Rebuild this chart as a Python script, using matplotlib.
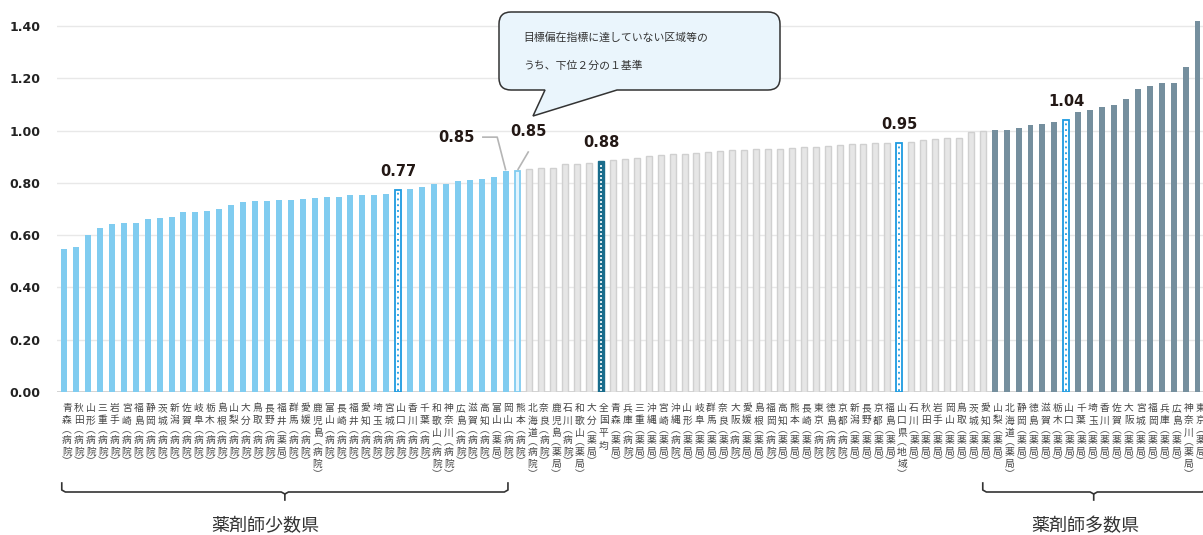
#!/usr/bin/env python3
"""Bar chart of the pharmacist distribution index by prefecture/sector,
sorted ascending, with the few/many pharmacist groups bracketed."""

import matplotlib.pyplot as plt
import matplotlib.transforms as mtransforms
from matplotlib.path import Path
from matplotlib.patches import PathPatch

plt.rcParams["font.family"] = ["Noto Sans CJK JP", "DejaVu Sans"]

W_PX, H_PX = 1203, 535

names = [
    "青森(病院)", "秋田(病院)", "山形(病院)", "三重(病院)", "岩手(病院)",
    "宮崎(病院)", "福島(病院)", "静岡(病院)", "茨城(病院)", "新潟(病院)",
    "佐賀(病院)", "岐阜(病院)", "栃木(病院)", "島根(病院)", "山梨(病院)",
    "大分(病院)", "鳥取(病院)", "長野(病院)", "福井(薬局)", "群馬(病院)",
    "愛媛(病院)", "鹿児島(病院)", "富山(病院)", "長崎(病院)", "福井(病院)",
    "愛知(病院)", "埼玉(病院)", "宮城(病院)", "山口(病院)", "香川(病院)",
    "千葉(病院)", "和歌山(病院)", "神奈川(病院)", "広島(病院)", "滋賀(病院)",
    "高知(病院)", "富山(薬局)", "岡山(病院)", "熊本(病院)",
    "北海道(病院)", "奈良(病院)", "鹿児島(薬局)", "石川(病院)", "和歌山(薬局)",
    "大分(薬局)", "全国平均", "青森(薬局)", "兵庫(病院)", "三重(薬局)",
    "沖縄(薬局)", "宮崎(薬局)", "沖縄(病院)", "山形(薬局)", "岐阜(薬局)",
    "群馬(薬局)", "奈良(薬局)", "大阪(病院)", "愛媛(薬局)",
    "島根(薬局)", "福岡(病院)", "高知(薬局)", "熊本(薬局)", "長崎(薬局)",
    "東京(病院)", "徳島(病院)", "京都(病院)", "新潟(薬局)", "長野(薬局)",
    "京都(薬局)", "福島(薬局)", "山口県(地域)", "石川(薬局)", "秋田(薬局)",
    "岩手(薬局)", "岡山(薬局)", "鳥取(薬局)", "茨城(薬局)",
    "愛知(薬局)", "山梨(薬局)", "北海道(薬局)", "静岡(薬局)", "徳島(薬局)",
    "滋賀(薬局)", "栃木(薬局)", "山口(薬局)", "千葉(薬局)", "埼玉(薬局)",
    "香川(薬局)", "佐賀(薬局)", "大阪(薬局)", "宮城(薬局)", "福岡(薬局)",
    "兵庫(薬局)", "広島(薬局)", "神奈川(薬局)", "東京(薬局)",
]

values_few = [
    0.548, 0.555, 0.601, 0.628, 0.643, 0.647, 0.647, 0.662, 0.666, 0.670,
    0.689, 0.689, 0.693, 0.701, 0.716, 0.727, 0.731, 0.731, 0.735, 0.735,
    0.739, 0.743, 0.746, 0.746, 0.754, 0.754, 0.754, 0.758, 0.771, 0.777,
    0.785, 0.796, 0.796, 0.808, 0.811, 0.815, 0.823, 0.846, 0.847,
]
values_mid = [
    0.854, 0.857, 0.857, 0.873, 0.873, 0.876, 0.882, 0.886, 0.891, 0.896,
    0.901, 0.906, 0.909, 0.912, 0.915, 0.918, 0.921, 0.924, 0.926, 0.929,
    0.930, 0.931, 0.934, 0.938, 0.939, 0.942, 0.944, 0.948, 0.948, 0.952,
    0.952, 0.952, 0.958, 0.964, 0.967, 0.972, 0.972, 0.996, 0.999,
]
values_many = [
    1.003, 1.003, 1.011, 1.023, 1.027, 1.034, 1.041, 1.072, 1.080, 1.091,
    1.099, 1.122, 1.160, 1.171, 1.183, 1.183, 1.243, 1.418,
]
values = values_few + values_mid + values_many

yticks = [0.0, 0.2, 0.4, 0.6, 0.8, 1.0, 1.2, 1.4]

# index of the lower-half threshold bar and of the first "many" bar
THRESHOLD = len(values_few) - 1
MANY_START = len(values_few) + len(values_mid)

LIGHT_BLUE = "#80ccf0"
SLATE = "#758f9e"
HILITE = "#1e9be0"

fig = plt.figure(figsize=(W_PX / 100, H_PX / 100), dpi=100)
ax_left, ax_bottom = 57, 143
xmin, xmax = -0.6, 95.6
px_per_bar = 11.93
ax_w = (xmax - xmin) * px_per_bar
ymax = 1.45
ax_h = ymax * 261.4
ax = fig.add_axes([ax_left / W_PX, ax_bottom / H_PX, ax_w / W_PX, ax_h / H_PX])

for i, (name, v) in enumerate(zip(names, values)):
    if name == "全国平均":
        ax.bar(i, v, width=0.5, color="#196c8c", edgecolor="#196c8c",
               linewidth=1, zorder=3)
        ax.vlines(i, 0.005, v - 0.005, colors="white", linewidth=1.2,
                  linestyles=(0, (1.2, 1.2)), zorder=4)
    elif name.startswith("山口"):
        ax.bar(i, v, width=0.5, color="white", edgecolor=HILITE,
               linewidth=1.3, zorder=3)
        ax.vlines(i, 0.005, v - 0.005, colors=HILITE, linewidth=1.3,
                  linestyles=(0, (1, 2.2)), zorder=4)
    elif i == THRESHOLD:
        ax.bar(i, v, width=0.5, color="#e3f4fd", edgecolor=LIGHT_BLUE,
               linewidth=1.3, zorder=3)
    elif i < THRESHOLD:
        ax.bar(i, v, width=0.5, color=LIGHT_BLUE, zorder=3)
    elif i < MANY_START:
        ax.bar(i, v, width=0.5, color="#e6e6e6", edgecolor="#d0d0d0",
               linewidth=1, zorder=3)
    else:
        ax.bar(i, v, width=0.5, color=SLATE, zorder=3)

ax.set_xlim(xmin, xmax)
ax.set_ylim(0, ymax)
ax.set_yticks(yticks)
ax.set_yticklabels([f"{t:.2f}" for t in yticks], family="DejaVu Sans",
                   fontweight="bold", fontsize=9, color="#222222")
ax.tick_params(axis="y", length=0, pad=12)
ax.set_xticks([])
for t in yticks:
    ax.axhline(t, color="#cccccc" if t == 0 else "#e8e8e8",
               linewidth=1.2 if t == 0 else 1, zorder=1)
for s in ax.spines.values():
    s.set_visible(False)

# vertical category labels, one glyph at a time
for i, name in enumerate(names):
    chars = (name.replace("(", "︵").replace(")", "︶"))
    y = 16.0
    prev_paren = False
    for k, ch in enumerate(chars):
        paren = ch in "︵︶"
        if k > 0:
            y += 9.5 if (paren or prev_paren) else 12.5
        ax.annotate(ch, xy=(i, 0), xytext=(2, -y * 0.72),
                    textcoords="offset points", ha="center", va="center",
                    fontsize=7, color="#444444", annotation_clip=False)
        prev_paren = paren

# value call-outs
for i in (28, 45, 70, 84):
    ax.annotate(f"{values[i]:.2f}", xy=(i, values[i]), xytext=(0, 13.5),
                textcoords="offset points", ha="center", va="center",
                family="DejaVu Sans", fontweight="bold", fontsize=10.5,
                color="#231815")

pix = mtransforms.Affine2D().scale(1 / W_PX, -1 / H_PX).translate(0, 1) + fig.transFigure
xpix = mtransforms.blended_transform_factory(ax.transData, pix)

# two 0.85 labels with leader lines to the last two light-blue bars
i = THRESHOLD - 1
ax.text(32.9, 0.975, f"{values[i]:.2f}", ha="center", va="center",
        family="DejaVu Sans", fontweight="bold", fontsize=10.5, color="#231815")
ax.plot([35.1, 36.3, i], [0.975, 0.975, values[i] + 0.005], color="#b5b5b5",
        linewidth=1.2, zorder=5, clip_on=False)
i = THRESHOLD
ax.text(38.9, 0.995, f"{values[i]:.2f}", ha="center", va="center",
        family="DejaVu Sans", fontweight="bold", fontsize=10.5, color="#231815")
ax.plot([38.9, i + 0.05], [0.918, values[i] + 0.005], color="#b5b5b5",
        linewidth=1.2, zorder=5, clip_on=False)

# speech bubble
x0, x1, y0, y1, r = 499, 780, 12, 90, 12
verts = [
    (545, y1), (533, 116), (617, y1), (x1 - r, y1), (x1, y1), (x1, y1 - r),
    (x1, y0 + r), (x1, y0), (x1 - r, y0), (x0 + r, y0), (x0, y0), (x0, y0 + r),
    (x0, y1 - r), (x0, y1), (x0 + r, y1), (545, y1),
]
codes = [Path.MOVETO, Path.LINETO, Path.LINETO, Path.LINETO,
         Path.CURVE3, Path.CURVE3, Path.LINETO, Path.CURVE3, Path.CURVE3,
         Path.LINETO, Path.CURVE3, Path.CURVE3, Path.LINETO, Path.CURVE3,
         Path.CURVE3, Path.CLOSEPOLY]
fig.patches.append(PathPatch(Path(verts, codes), facecolor="#eaf5fc",
                             edgecolor="#333333", linewidth=1.1,
                             transform=pix, zorder=10))
fig.text(523 / W_PX, 1 - 38 / H_PX, "目標偏在指標に達していない区域等の",
         fontsize=7.8, color="#333333", va="center", ha="left", zorder=11)
fig.text(523 / W_PX, 1 - 66 / H_PX, "うち、下位２分の１基準",
         fontsize=7.8, color="#333333", va="center", ha="left", zorder=11)


def bracket(xa, xb, xc, label, label_x):
    # ends turn up, the centre tick points down
    ax.plot([xa, xa, xa + 0.3, xc - 0.3, xc, xc],
            [483, 490, 492, 492, 494, 500],
            transform=xpix, color="#333333", linewidth=1.2, clip_on=False)
    ax.plot([xc, xc + 0.3, xb - 0.3, xb, xb],
            [494, 492, 492, 490, 483],
            transform=xpix, color="#333333", linewidth=1.2, clip_on=False)
    ax.text(label_x, 526, label, transform=xpix, ha="center", va="center",
            fontsize=13, color="#333333")


bracket(-0.2, 37.2, 18.5, "薬剤師少数県", 16.85)
bracket(77.0, 95.7, 86.3, "薬剤師多数県", 85.6)

fig.savefig("out.png", dpi=100)
